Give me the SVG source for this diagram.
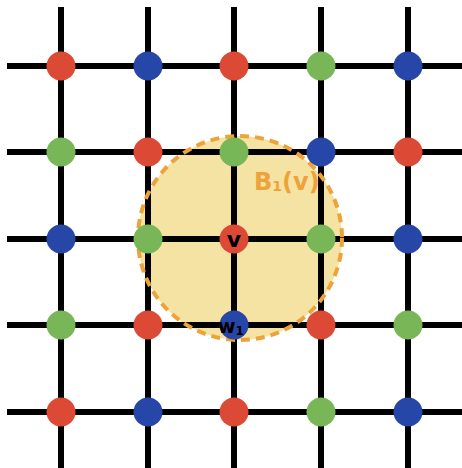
<svg xmlns="http://www.w3.org/2000/svg" width="462" height="468" viewBox="0 0 462 468">
<style>
.ln{stroke:#000;stroke-width:6;fill:none}
.r{fill:#dc4a35}.b{fill:#2747a8}.g{fill:#78b657}
.lbl{font-family:"DejaVu Sans",sans-serif;font-weight:bold;fill:#000}
.ball{font-family:"DejaVu Sans",sans-serif;font-weight:bold;fill:#eea23a}
</style>
<rect width="462" height="468" fill="#fff"/>
<circle id="ball-fill" cx="240" cy="238" r="102" fill="#f5e3a3"/>
<g id="connectors" class="ln">
<line x1="61" y1="7" x2="61" y2="468"/>
<line x1="148" y1="7" x2="148" y2="468"/>
<line x1="234" y1="7" x2="234" y2="468"/>
<line x1="321" y1="7" x2="321" y2="468"/>
<line x1="408" y1="7" x2="408" y2="468"/>
<line x1="7" y1="66" x2="462" y2="66"/>
<line x1="7" y1="152" x2="462" y2="152"/>
<line x1="7" y1="239" x2="462" y2="239"/>
<line x1="7" y1="325" x2="462" y2="325"/>
<line x1="7" y1="412" x2="462" y2="412"/>
</g>
<circle id="ball" cx="240" cy="238" r="102" fill="none" stroke="#eea23a" stroke-width="4" stroke-dasharray="9 6"/>
<g id="nodes">
<g id="n11"><circle class="r" cx="61" cy="66" r="14.5"/></g>
<g id="n12"><circle class="b" cx="148" cy="66" r="14.5"/></g>
<g id="n13"><circle class="r" cx="234" cy="66" r="14.5"/></g>
<g id="n14"><circle class="g" cx="321" cy="66" r="14.5"/></g>
<g id="n15"><circle class="b" cx="408" cy="66" r="14.5"/></g>
<g id="n21"><circle class="g" cx="61" cy="152" r="14.5"/></g>
<g id="n22"><circle class="r" cx="148" cy="152" r="14.5"/></g>
<g id="n23"><circle class="g" cx="234" cy="152" r="14.5"/></g>
<g id="n24"><circle class="b" cx="321" cy="152" r="14.5"/></g>
<g id="n25"><circle class="r" cx="408" cy="152" r="14.5"/></g>
<g id="n31"><circle class="b" cx="61" cy="239" r="14.5"/></g>
<g id="n32"><circle class="g" cx="148" cy="239" r="14.5"/></g>
<g id="v"><circle class="r" cx="234" cy="239" r="14.5"/><text class="lbl" x="234" y="247" font-size="22" text-anchor="middle">v</text></g>
<g id="n34"><circle class="g" cx="321" cy="239" r="14.5"/></g>
<g id="n35"><circle class="b" cx="408" cy="239" r="14.5"/></g>
<g id="n41"><circle class="g" cx="61" cy="325" r="14.5"/></g>
<g id="n42"><circle class="r" cx="148" cy="325" r="14.5"/></g>
<g id="w1"><circle class="b" cx="234" cy="325" r="14.5"/><text class="lbl" x="231" y="333" font-size="19" text-anchor="middle">w<tspan font-size="12" dy="2">1</tspan></text></g>
<g id="n44"><circle class="r" cx="321" cy="325" r="14.5"/></g>
<g id="n45"><circle class="g" cx="408" cy="325" r="14.5"/></g>
<g id="n51"><circle class="r" cx="61" cy="412" r="14.5"/></g>
<g id="n52"><circle class="b" cx="148" cy="412" r="14.5"/></g>
<g id="n53"><circle class="r" cx="234" cy="412" r="14.5"/></g>
<g id="n54"><circle class="g" cx="321" cy="412" r="14.5"/></g>
<g id="n55"><circle class="b" cx="408" cy="412" r="14.5"/></g>
</g>
<text class="ball" x="254" y="190" font-size="24">B<tspan font-size="14" dy="1">1</tspan><tspan dy="-1">(v)</tspan></text>
</svg>
